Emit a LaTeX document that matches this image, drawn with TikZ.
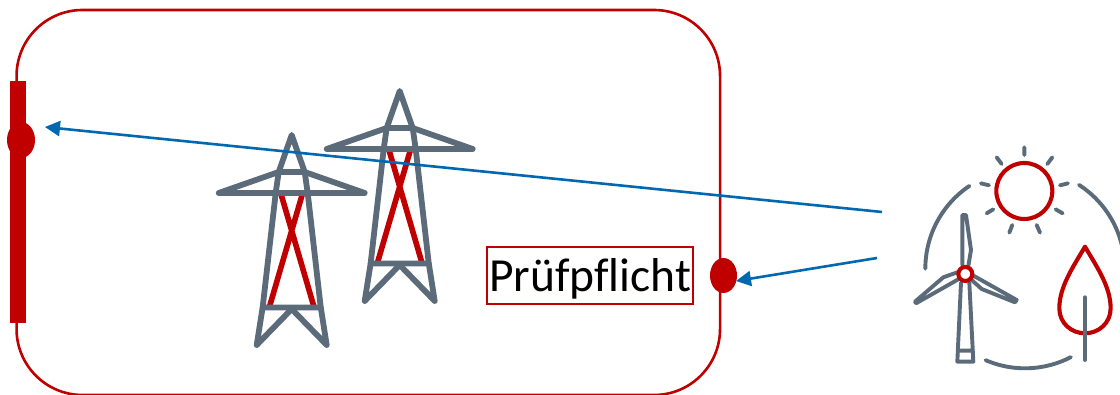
\documentclass[tikz,border=0pt]{standalone}
\usepackage{fontspec}
\setmainfont{Carlito}
\usetikzlibrary{arrows.meta,shapes.geometric}
\definecolor{dbred}{HTML}{C00000}
\definecolor{slategrey}{HTML}{5B6B79}
\definecolor{linkblue}{HTML}{0068B0}
\tikzset{
  x=1pt,y=-1pt,
  gline/.style={draw=slategrey,line width=5.8pt,line cap=round,line join=round},
  rline/.style={draw=dbred,line width=5.6pt},
  ithin/.style={draw=slategrey,line width=3.9pt,line cap=round,line join=round},
  ired/.style={draw=dbred,line width=4.1pt,line join=round},
  dot/.style={ellipse,fill=dbred,inner sep=0pt},
  link/.style={draw=linkblue,line width=2.6pt,-{Triangle[length=15pt,width=15pt]}},
  pics/pylon/.style={code={
    \draw[rline] (-11,58) -- (22,171) (11,58) -- (-22,171);
    \draw[gline] (-35,210) -- (-29,172) -- (-16,58) -- (-13,37) -- (0,0) -- (13,37) -- (16,58) -- (29,172) -- (35,210) -- (0,174) -- cycle;
    \draw[gline] (-73,58) -- (73,58) (-73,58) -- (-13,37) -- (13,37) -- (73,58) (-29,172.5) -- (29,172.5);
  }}
}
\begin{document}
\begin{tikzpicture}
\useasboundingbox (0,0) rectangle (1120,395);
% frame
\node[draw=dbred,line width=2.6pt,rounded corners=66pt,minimum width=703.5pt,minimum height=385pt,inner sep=0pt,anchor=center] (frame) at (368.3,202.5) {};
% bar and dots
\node[fill=dbred,inner sep=0pt,minimum width=16pt,minimum height=242pt] (bar) at (18,202) {};
\node[dot,minimum width=28pt,minimum height=36pt] (dotA) at (21,140) {};
\node[dot,minimum width=27pt,minimum height=35pt] (dotB) at (723.5,275.5) {};
% pylons
\pic at (291.7,135) {pylon};
\pic at (399.7,91) {pylon};
% label
\node[draw=dbred,line width=2pt,minimum width=206pt,minimum height=57pt,inner sep=0pt,text height=45pt,text depth=12pt,text=black,font=\fontsize{47.5}{54}\selectfont] (label) at (590,275.5) {Prüfpf\kern0ptlicht};
% connectors
\coordinate (srcA) at (882,212);
\coordinate (srcB) at (877,258);
\coordinate (tipA) at ([shift={(24,-13)}]dotA.center);
\coordinate (tipB) at ([shift={(12.5,5.5)}]dotB.center);
\draw[link] (srcA) -- (tipA);
\draw[link] (srcB) -- (tipB);
% renewable icon
\begin{scope}[shift={(900,140)},x=0.3333pt,y=-0.3333pt]
  % sun
  \draw[ired] (373,153) circle[radius=28pt];
  \draw[ithin] (373,22)--(373,45) (290,52)--(305,72) (457,52)--(442,72)
    (243,130)--(267,136) (504,130)--(480,136) (260,220)--(280,208)
    (488,220)--(467,208) (328,278)--(337,255) (420,278)--(410,255);
  % ring
  \draw[ithin] plot[domain=123.9:180,samples=40] ({375+299*cos(\x)},{386-299*sin(\x)});
  \draw[ithin] plot[domain=57.2:12,samples=40] ({375+299*cos(\x)},{386-299*sin(\x)});
  \draw[ithin] plot[domain=246.7:297.4,samples=30] ({375+299*cos(\x)},{386-299*sin(\x)});
  % turbine
  \draw[ithin] (183,428)--(172,665)--(220,665)--(208,428) (176,632)--(216,632);
  \draw[ithin] (187,375)--(187,225)--(198,225)--(213,330)--(205,378);
  \draw[ithin] (172,397)--(130,412)--(45,485)--(48,490)--(175,418);
  \draw[ithin] (222,408)--(350,480)--(345,487)--(245,447)--(215,420);
  \draw[ired,fill=white] (196,402) circle[radius=7pt];
  % tree
  \draw[ired] (555,320) .. controls (520,380) and (478,440) .. (478,505)
    .. controls (478,550) and (515,580) .. (555,580)
    .. controls (595,580) and (632,550) .. (632,505)
    .. controls (632,440) and (590,380) .. cycle;
  \draw[ithin] (555,472)--(555,660);
\end{scope}
\end{tikzpicture}
\end{document}
